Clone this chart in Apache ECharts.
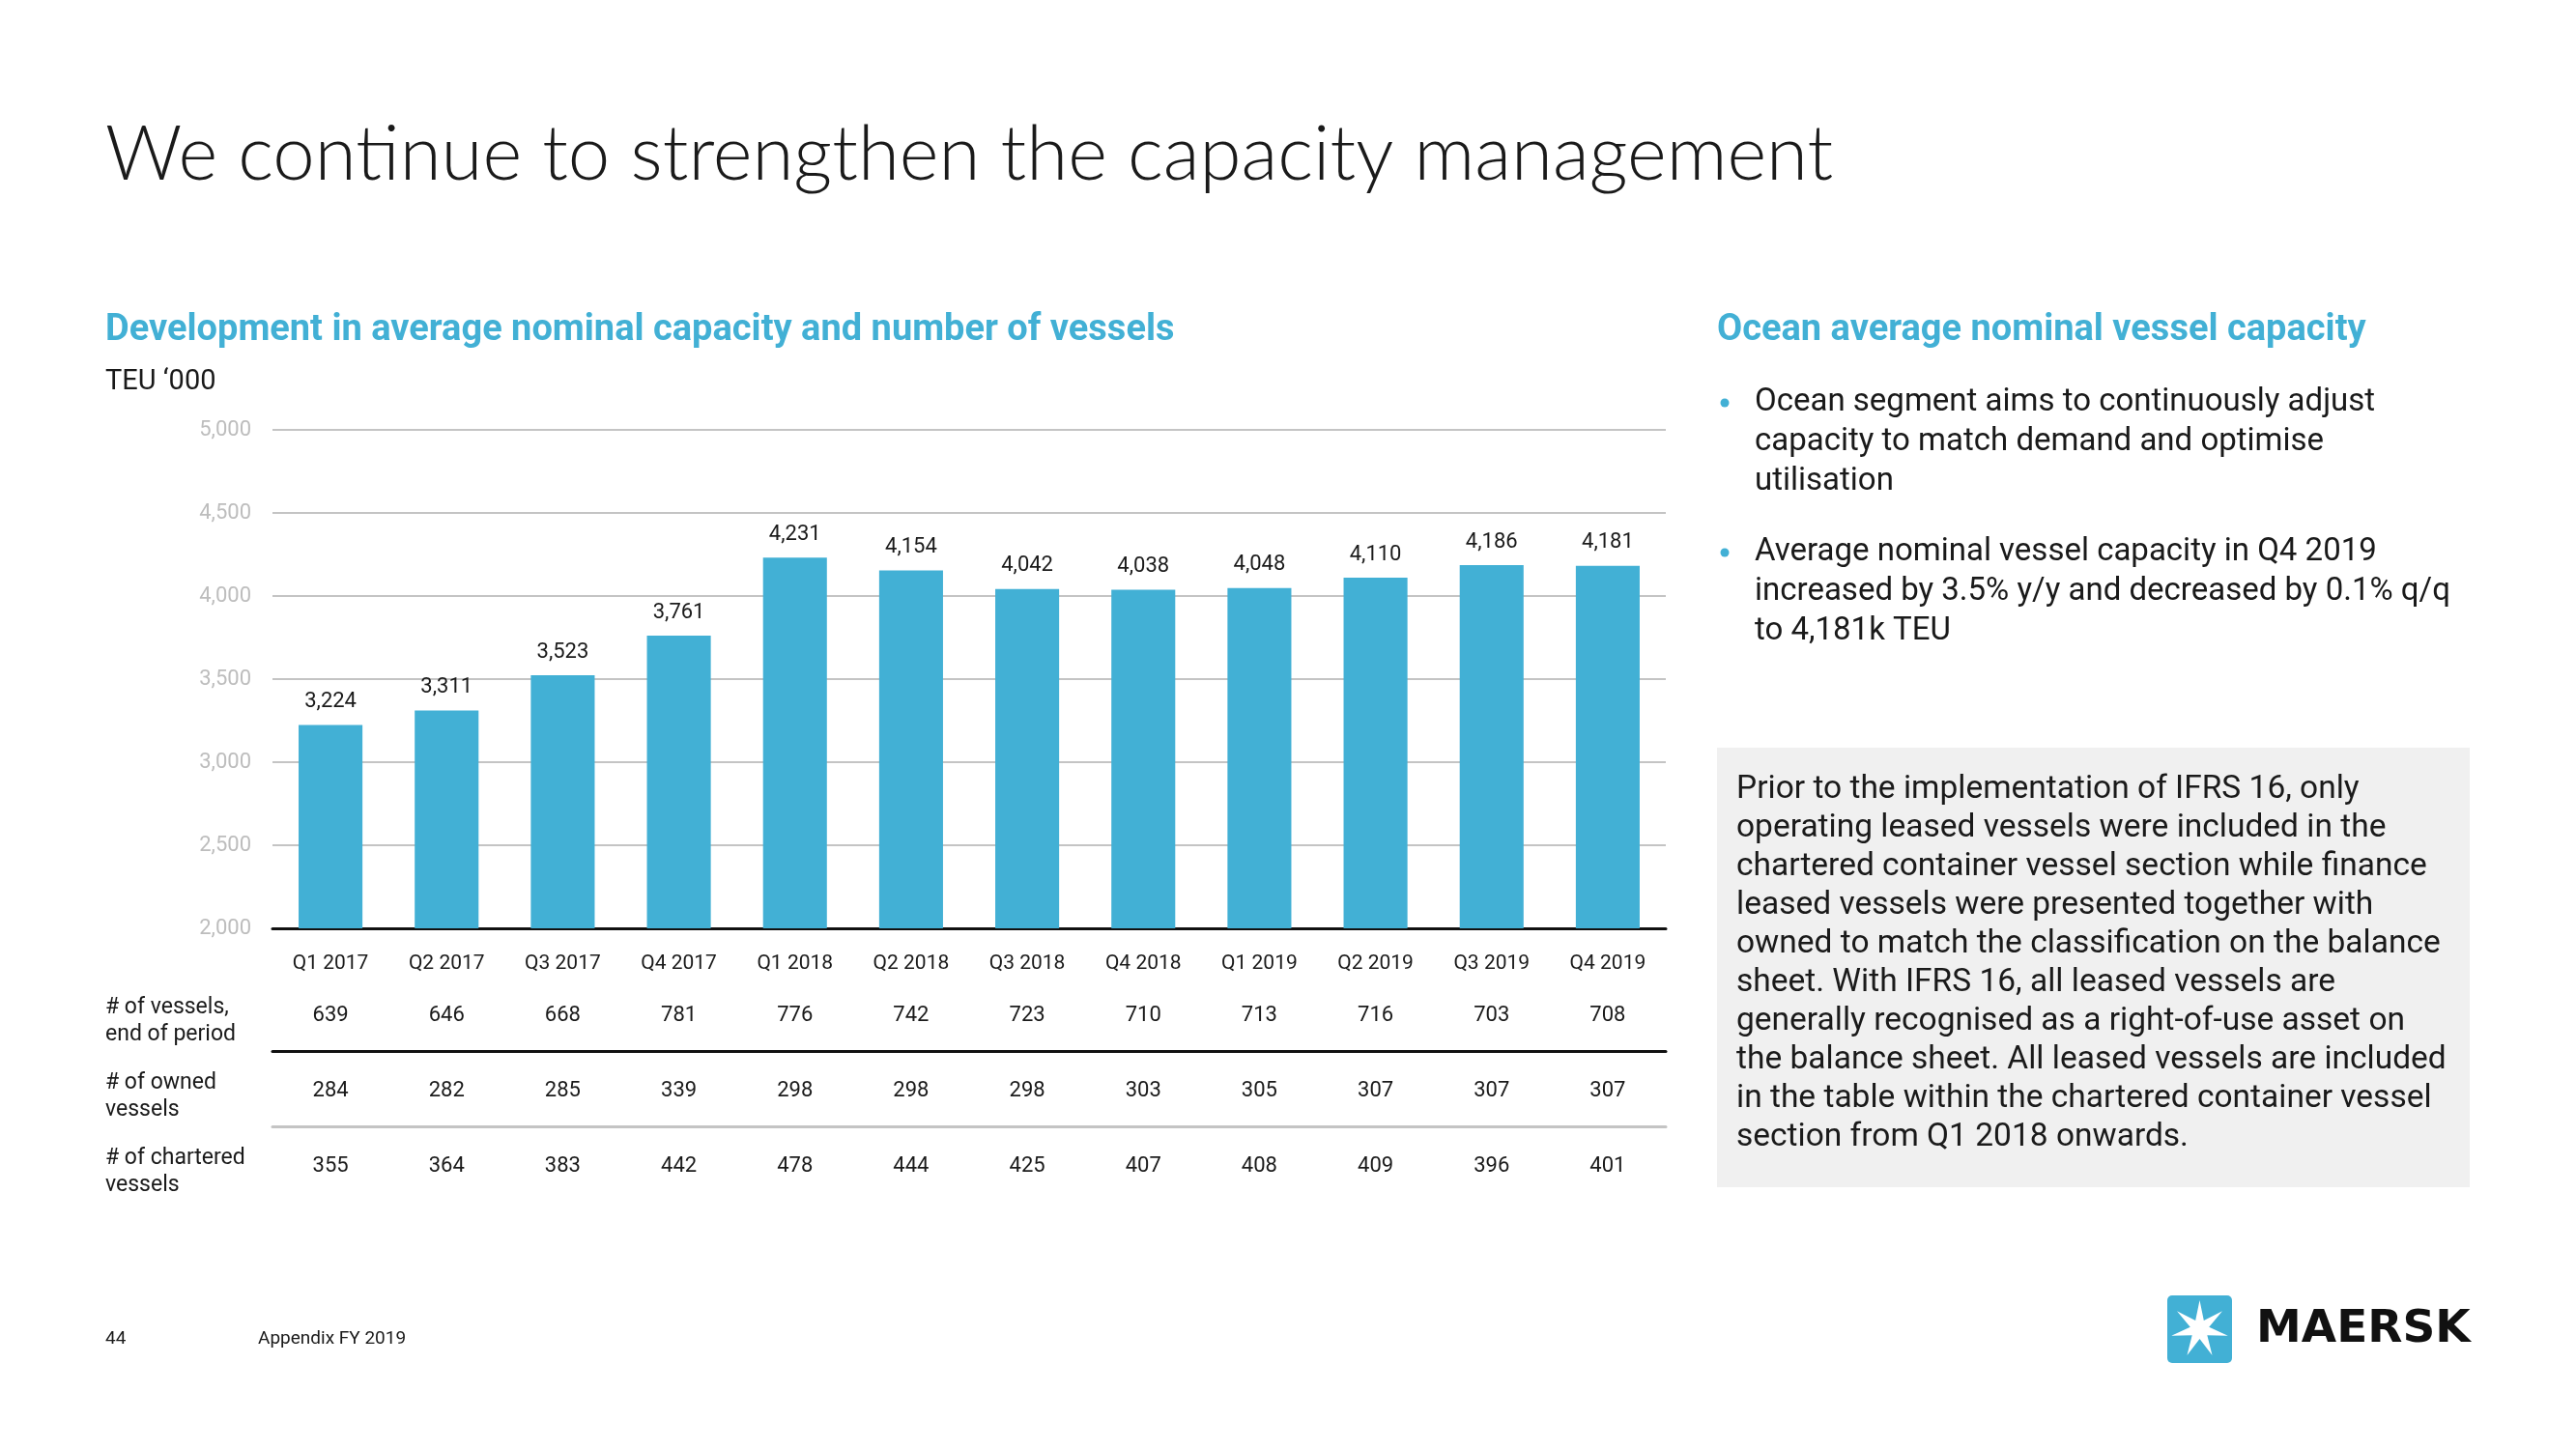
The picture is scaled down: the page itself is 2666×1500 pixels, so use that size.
<!DOCTYPE html>
<html>
<head>
<meta charset="utf-8">
<script src="https://cdn.jsdelivr.net/npm/echarts@6/dist/echarts.min.js"></script>
<style>
html,body{margin:0;padding:0;background:#fff;}
#chart{width:2666px;height:1500px;}
</style>
</head>
<body>
<div id="chart"></div>
<script>
// ---- data ----
var categories = ['Q1 2017','Q2 2017','Q3 2017','Q4 2017','Q1 2018','Q2 2018','Q3 2018','Q4 2018','Q1 2019','Q2 2019','Q3 2019','Q4 2019'];
var capacity = [3224, 3311, 3523, 3761, 4231, 4154, 4042, 4038, 4048, 4110, 4186, 4181];
var vesselsEnd = [639, 646, 668, 781, 776, 742, 723, 710, 713, 716, 703, 708];
var ownedVessels = [284, 282, 285, 339, 298, 298, 298, 303, 305, 307, 307, 307];
var charteredVessels = [355, 364, 383, 442, 478, 444, 425, 407, 408, 409, 396, 401];
var yTicks = {min: 2000, max: 5000, interval: 500};
var rowLabels = ['# of vessels,\nend of period', '# of owned\nvessels', '# of chartered\nvessels'];

var titleText = 'We continue to strengthen the capacity management';
var chartTitle = 'Development in average nominal capacity and number of vessels';
var unitText = 'TEU \u2018000';
var sideTitle = 'Ocean average nominal vessel capacity';
var bullet1 = 'Ocean segment aims to continuously adjust\ncapacity to match demand and optimise\nutilisation';
var bullet2 = 'Average nominal vessel capacity in Q4 2019\nincreased by 3.5% y/y and decreased by 0.1% q/q\nto 4,181k TEU';
var boxText = 'Prior to the implementation of IFRS 16, only\noperating leased vessels were included in the\nchartered container vessel section while finance\nleased vessels were presented together with\nowned to match the classification on the balance\nsheet. With IFRS 16, all leased vessels are\ngenerally recognised as a right-of-use asset on\nthe balance sheet. All leased vessels are included\nin the table within the chartered container vessel\nsection from Q1 2018 onwards.';
var pageNo = '44';
var footerText = 'Appendix FY 2019';

// ---- styling ----
var BLUE = '#42b0d5';
var TXT = '#1a1a1a';
var GRAYLINE = '#c4c4c4';
var FONT = 'Roboto, "Noto Sans", sans-serif';
function fmt(v){ return Number(v).toLocaleString('en-US'); }

var chart = echarts.init(document.getElementById('chart'), null, {renderer:'canvas'});

var AXIS_Y = 961;
var LABEL_FS = 22;
function tableAxis(values, centerY){
  return {
    type:'category', gridIndex:0, position:'bottom', data: values.map(String),
    offset: centerY - AXIS_Y - LABEL_FS/2,
    axisLine:{show:false}, axisTick:{show:false},
    axisLabel:{margin:0, color:TXT, fontSize:LABEL_FS, fontFamily:FONT, interval:0}
  };
}
function lineAxis(offset, color){
  return {
    type:'category', gridIndex:0, position:'bottom', data: categories,
    offset: offset,
    axisLine:{show:true, lineStyle:{color:color, width:3}}, axisTick:{show:false},
    axisLabel:{show:false}
  };
}

// star polygon for logo
function starPoints(cx, cy, rOut, rIn, n){
  var pts = [];
  for (var i=0;i<2*n;i++){
    var r = (i%2===0)? rOut : rIn;
    var a = -Math.PI/2 + i*Math.PI/n;
    pts.push([cx + r*Math.cos(a), cy + r*Math.sin(a)]);
  }
  return pts;
}

var option = {
  animation:false,
  backgroundColor:'#ffffff',
  grid:{left:282, right:942, top:445, bottom:1500-AXIS_Y},
  xAxis:[
    {
      type:'category', data:categories,
      axisLine:{show:true, lineStyle:{color:'#111', width:3}},
      axisTick:{show:false},
      axisLabel:{margin:26, color:TXT, fontSize:21, fontFamily:FONT, interval:0}
    },
    tableAxis(vesselsEnd, 1051),
    tableAxis(ownedVessels, 1129),
    tableAxis(charteredVessels, 1207),
    lineAxis(1088 - AXIS_Y, '#111'),
    lineAxis(1166 - AXIS_Y, GRAYLINE)
  ],
  yAxis:{
    type:'value', min:yTicks.min, max:yTicks.max, interval:yTicks.interval,
    axisLine:{show:false}, axisTick:{show:false},
    splitLine:{lineStyle:{color:GRAYLINE, width:2}},
    axisLabel:{margin:22, color:'#bdbdbd', fontSize:22, fontFamily:FONT, formatter:fmt}
  },
  series:[{
    type:'bar', xAxisIndex:0, data:capacity, barWidth:'55%',
    itemStyle:{color:BLUE},
    label:{show:true, position:'top', distance:13, color:TXT, fontSize:22, fontFamily:FONT, formatter:function(p){return fmt(p.value);}}
  }],
  graphic:[
    {type:'text', left:109, top:122, style:{text:titleText, fill:TXT, font:'300 78px Lato, "Open Sans", sans-serif'}},
    {type:'text', left:109, top:323, style:{text:chartTitle, fill:BLUE, font:'bold 38px '+FONT}},
    {type:'text', left:109, top:381, style:{text:unitText, fill:TXT, font:'29px '+FONT}},
    {type:'text', left:109, top:1029, style:{text:rowLabels[0], fill:TXT, font:'23px '+FONT, lineHeight:28}},
    {type:'text', left:109, top:1107, style:{text:rowLabels[1], fill:TXT, font:'23px '+FONT, lineHeight:28}},
    {type:'text', left:109, top:1185, style:{text:rowLabels[2], fill:TXT, font:'23px '+FONT, lineHeight:28}},
    {type:'text', left:1777, top:323, style:{text:sideTitle, fill:BLUE, font:'bold 38px '+FONT}},
    {type:'circle', shape:{cx:1785, cy:417, r:4.5}, style:{fill:BLUE}},
    {type:'text', left:1816, top:396, style:{text:bullet1, fill:TXT, font:'33px '+FONT, lineHeight:41}},
    {type:'circle', shape:{cx:1785, cy:572, r:4.5}, style:{fill:BLUE}},
    {type:'text', left:1816, top:551, style:{text:bullet2, fill:TXT, font:'33px '+FONT, lineHeight:41}},
    {type:'rect', left:1777, top:774, shape:{width:779, height:455}, style:{fill:'#f0f0f0'}},
    {type:'text', left:1797, top:798, style:{text:boxText, fill:TXT, font:'33.5px '+FONT, lineHeight:40}},
    {type:'text', left:109, top:1377, style:{text:pageNo, fill:TXT, font:'19px '+FONT}},
    {type:'text', left:267, top:1377, style:{text:footerText, fill:TXT, font:'19px '+FONT}},
    {type:'rect', left:2243, top:1341, shape:{width:67, height:70, r:5}, style:{fill:BLUE}},
    {type:'polygon', shape:{points:starPoints(2276.5, 1376, 30, 10, 7)}, style:{fill:'#ffffff'}},
    {type:'text', left:2335, top:1353, style:{text:'MAERSK', fill:'#111', font:'bold 47px "DejaVu Sans", sans-serif'}}
  ]
};
chart.setOption(option);
</script>
</body>
</html>
